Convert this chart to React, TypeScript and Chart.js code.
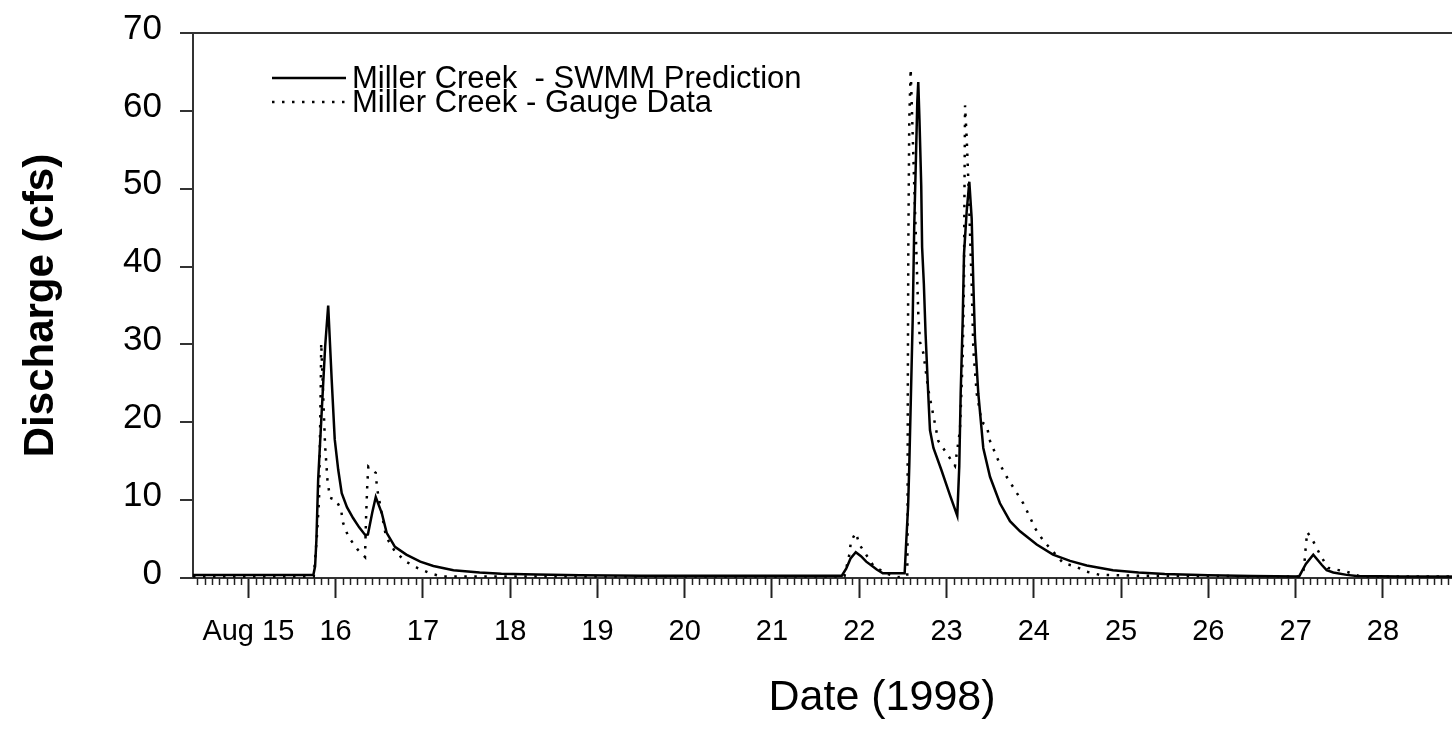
import React, { useEffect, useRef } from 'react';
import { Chart, registerables } from 'chart.js';

Chart.register(...registerables);

// ---- Data (time in days of August 1998, discharge in cfs) ----
const swmmTime = [
  14.366, 15.0, 15.5, 15.745, 15.765, 15.78, 15.8, 15.84, 15.88, 15.915, 15.955, 15.99, 16.03, 16.07, 16.13,
  16.2, 16.27, 16.34, 16.37, 16.42, 16.46, 16.53, 16.585, 16.68, 16.81, 16.97, 17.12, 17.35, 17.65, 17.9,
  18.3, 18.8, 19.5, 20.5, 21.5, 21.8, 21.85, 21.9, 21.96, 22.02, 22.08, 22.14, 22.2, 22.27, 22.52,
  22.535, 22.56, 22.573, 22.612, 22.63, 22.65, 22.665, 22.676, 22.69, 22.71, 22.72, 22.74, 22.76, 22.79, 22.81,
  22.85, 22.94, 23.04, 23.123, 23.146, 23.162, 23.185, 23.2, 23.231, 23.261, 23.288, 23.307, 23.326, 23.364, 23.421,
  23.498, 23.612, 23.727, 23.842, 24.033, 24.22, 24.415, 24.606, 24.907, 25.2, 25.5, 26.0, 26.5, 27.04, 27.117,
  27.202, 27.298, 27.355, 27.431, 27.585, 27.7, 28.2, 30.2,
];
const swmmFlow = [
  0.4, 0.4, 0.4, 0.4, 1.5, 4.9, 12.6, 21.2, 29.7, 35.0, 25.5, 17.8, 13.9, 10.9, 9.1,
  7.7, 6.5, 5.5, 5.6, 8.4, 10.4, 8.3, 5.8, 4.0, 3.0, 2.1, 1.55, 1.0, 0.7, 0.55,
  0.45, 0.35, 0.3, 0.3, 0.3, 0.3, 1.2, 2.5, 3.3, 2.8, 2.1, 1.6, 1.1, 0.6, 0.6,
  4.0, 9.3, 14.4, 33.1, 45.3, 54.2, 61.2, 63.7, 58.8, 50.4, 42.5, 37.8, 31.3, 23.7, 19.0,
  16.7, 13.9, 10.6, 8.0, 14.4, 23.7, 33.1, 41.6, 47.1, 50.9, 46.2, 37.8, 30.8, 23.7, 16.7,
  13.0, 9.6, 7.3, 6.0, 4.3, 3.0, 2.2, 1.6, 1.0, 0.7, 0.5, 0.35, 0.25, 0.2, 1.8,
  3.0, 1.7, 1.0, 0.7, 0.4, 0.25, 0.2, 0.15,
];

const gaugeTime = [
  14.366, 15.0, 15.75, 15.784, 15.81, 15.821, 15.83, 15.835, 15.879, 15.907, 15.936, 16.005, 16.062, 16.085, 16.146,
  16.249, 16.337, 16.349, 16.363, 16.375, 16.46, 16.475, 16.578, 16.68, 16.807, 16.936, 17.082, 17.216, 21.83, 21.886,
  21.905, 21.959, 22.008, 22.16, 22.3, 22.45, 22.55, 22.553, 22.556, 22.562, 22.573, 22.589, 22.639, 22.658, 22.676,
  22.696, 22.734, 22.791, 22.906, 23.002, 23.097, 23.154, 23.185, 23.2, 23.204, 23.212, 23.231, 23.25, 23.261, 23.288,
  23.307, 23.346, 23.403, 23.46, 23.498, 23.612, 23.689, 23.784, 23.879, 23.948, 24.013, 24.109, 24.338, 24.472, 24.606,
  24.76, 25.2, 27.05, 27.09, 27.106, 27.117, 27.133, 27.202, 27.28, 27.37, 27.585, 27.74, 30.2,
];
const gaugeFlow = [
  0.2, 0.2, 0.2, 5.1, 10.0, 18.0, 24.6, 30.2, 17.1, 12.5, 10.3, 10.0, 8.8, 7.1, 5.3,
  3.7, 2.7, 7.7, 12.0, 14.3, 13.5, 11.5, 5.3, 3.4, 2.1, 1.3, 0.6, 0.2, 0.2, 3.0,
  4.7, 5.8, 4.2, 1.6, 0.6, 0.1, 0.3, 5.0, 23.7, 42.5, 58.8, 65.4, 47.1, 40.6, 34.0,
  30.3, 28.9, 24.2, 17.6, 16.0, 14.4, 19.0, 28.4, 37.8, 47.1, 60.7, 56.5, 50.9, 47.1, 37.8,
  29.3, 23.7, 20.0, 19.6, 17.6, 14.6, 13.0, 11.3, 9.6, 8.0, 6.4, 4.8, 1.9, 1.5, 0.8,
  0.4, 0.3, 0.2, 1.0, 2.6, 4.2, 5.9, 4.7, 3.0, 1.3, 0.8, 0.2, 0.2,
];

const dayTicks = [15, 16, 17, 18, 19, 20, 21, 22, 23, 24, 25, 26, 27, 28];
const dayLabels = ['Aug 15', '16', '17', '18', '19', '20', '21', '22', '23', '24', '25', '26', '27', '28'];
const yTicks = [0, 10, 20, 30, 40, 50, 60, 70];

const seriesLabels = ['Miller Creek  - SWMM Prediction', 'Miller Creek - Gauge Data'];

const FONT = '"Liberation Sans", Arial, Helvetica, sans-serif';

const minorTickPlugin = {
  id: 'minorTicks',
  afterDraw(chart: any) {
    const xs = chart.scales.x;
    const ctx = chart.ctx;
    ctx.save();
    ctx.strokeStyle = '#222';
    ctx.lineWidth = 1.5;
    const y0 = xs.top;
    for (let k = Math.ceil(xs.min * 12); k <= Math.floor(xs.max * 12); k++) {
      if (k % 12 === 0) continue;
      const px = Math.round(xs.getPixelForValue(k / 12)) + 0.5;
      ctx.beginPath();
      ctx.moveTo(px, y0);
      ctx.lineTo(px, y0 + 7);
      ctx.stroke();
    }
    ctx.restore();
  },
};

const legendPlugin = {
  id: 'insideLegend',
  afterDraw(chart: any) {
    const ctx = chart.ctx;
    const rows = [78, 102];
    ctx.save();
    chart.data.datasets.forEach((ds: any, i: number) => {
      const y = rows[i];
      ctx.strokeStyle = ds.borderColor;
      ctx.lineWidth = ds.borderWidth;
      ctx.setLineDash(ds.borderDash || []);
      ctx.beginPath();
      ctx.moveTo(272, y);
      ctx.lineTo(346, y);
      ctx.stroke();
      ctx.setLineDash([]);
      ctx.fillStyle = '#000';
      ctx.font = `31px ${FONT}`;
      ctx.textBaseline = 'middle';
      ctx.textAlign = 'left';
      ctx.fillText(ds.label, 352, y + 1);
    });
    ctx.restore();
  },
};

export default function App() {
  const ref = useRef<HTMLCanvasElement>(null);

  useEffect(() => {
    if (!ref.current) return;
    Chart.defaults.font.family = FONT;
    Chart.defaults.color = '#000';
    const chart = new Chart(ref.current, {
      type: 'line',
      data: {
        datasets: [
          {
            label: seriesLabels[0],
            data: swmmTime.map((t, i) => ({ x: t, y: swmmFlow[i] })),
            borderColor: '#000',
            borderWidth: 2.5,
            pointRadius: 0,
            tension: 0,
            fill: false,
          },
          {
            label: seriesLabels[1],
            data: gaugeTime.map((t, i) => ({ x: t, y: gaugeFlow[i] })),
            borderColor: '#000',
            borderWidth: 2.5,
            borderDash: [2.5, 7.5],
            pointRadius: 0,
            tension: 0,
            fill: false,
          },
        ],
      },
      options: {
        animation: false,
        responsive: false,
        layout: { padding: { top: 33, left: 0, right: 0, bottom: 0 } },
        plugins: {
          legend: { display: false },
          tooltip: { enabled: false },
        },
        scales: {
          x: {
            type: 'linear',
            min: 14.366,
            max: 30.155,
            afterBuildTicks: (scale: any) => {
              scale.ticks = dayTicks.map((v) => ({ value: v }));
            },
            afterFit: (scale: any) => {
              scale.height = 158;
            },
            ticks: {
              autoSkip: false,
              maxRotation: 0,
              padding: 17,
              font: { size: 29 },
              color: '#000',
              callback: (value: any) => {
                const i = dayTicks.indexOf(Number(value));
                return i >= 0 ? dayLabels[i] : '';
              },
            },
            grid: {
              drawOnChartArea: false,
              tickLength: 20,
              tickColor: '#222',
              tickWidth: 2,
            },
            border: { color: '#333', width: 2 },
            title: {
              display: true,
              text: 'Date (1998)',
              font: { size: 43 },
              color: '#000',
              padding: { top: 0, bottom: 12 },
            },
          },
          y: {
            type: 'linear',
            min: 0,
            max: 70,
            afterBuildTicks: (scale: any) => {
              scale.ticks = yTicks.map((v) => ({ value: v }));
            },
            afterFit: (scale: any) => {
              scale.width = 193;
              scale.paddingTop = 0;
              scale.paddingBottom = 0;
            },
            ticks: {
              padding: 18,
              labelOffset: -4,
              font: { size: 35 },
              color: '#000',
            },
            grid: {
              drawOnChartArea: true,
              color: (c: any) => (c.tick && c.tick.value === 70 ? '#333' : 'rgba(0,0,0,0)'),
              lineWidth: 2,
              tickLength: 13,
              tickColor: '#333',
              tickWidth: 2,
            },
            border: { color: '#333', width: 2 },
            title: {
              display: true,
              text: 'Discharge (cfs)',
              font: { size: 42, weight: 'bold' },
              color: '#000',
              padding: { top: 16, bottom: 0 },
            },
          },
        },
      },
      plugins: [minorTickPlugin, legendPlugin],
    } as any);
    return () => chart.destroy();
  }, []);

  return (
    <div
      style={{
        position: 'absolute',
        left: 0,
        top: 0,
        width: 1452,
        height: 736,
        overflow: 'hidden',
        background: '#fff',
      }}
    >
      <canvas ref={ref} width={1571} height={736} style={{ display: 'block' }} />
    </div>
  );
}
